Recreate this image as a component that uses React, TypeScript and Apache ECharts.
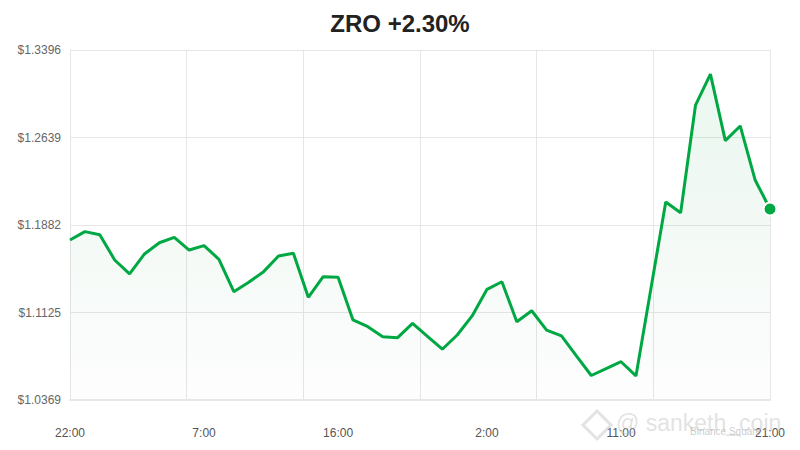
import React, { useEffect, useRef } from "react";
import * as echarts from "echarts";

// hourly closes, starting 22:00
const prices = [
  1.1753, 1.1825, 1.1799, 1.158, 1.1459, 1.1632, 1.1729, 1.1776, 1.1666, 1.1704,
  1.1586, 1.1306, 1.1387, 1.1479, 1.1614, 1.1638, 1.1257, 1.1435, 1.143, 1.1061,
  1.1003, 1.0917, 1.0908, 1.1032, 1.092, 1.0808, 1.0931, 1.1096, 1.1326, 1.1392,
  1.1046, 1.1141, 1.0974, 1.0923, 1.0751, 1.0581, 1.0641, 1.07, 1.0577, 1.1329,
  1.2081, 1.1989, 1.292, 1.3188, 1.2612, 1.2739, 1.2272, 1.2021,
];
const startHour = 22;
const xLabelHours = [0, 9, 18, 28, 37, 47];
const yTickLabels = ["$1.0369", "$1.1125", "$1.1882", "$1.2639", "$1.3396"];
const yMin = 1.0369;
const yMax = 1.3396;

const green = "#00a843";
const font = "Liberation Sans, Arial, sans-serif";

const App: React.FC = () => {
  const chartRef = useRef<HTMLDivElement | null>(null);

  useEffect(() => {
    document.body.style.margin = "0";
    if (!chartRef.current) return;
    const chart = echarts.init(chartRef.current, undefined, { renderer: "svg" });

    // y axis runs in steps of one tick so min stays on the tick grid
    const yStep = (yMax - yMin) / (yTickLabels.length - 1);
    const points = prices.map((p, i) => [i, (p - yMin) / yStep]);
    const last = points[points.length - 1];
    const maxX = prices.length - 1;

    const option = {
      animation: false,
      textStyle: { fontFamily: font },
      title: {
        text: "ZRO +2.30%",
        left: "center",
        top: 6,
        textStyle: { fontSize: 24, fontWeight: "bold", color: "#222", fontFamily: font },
      },
      grid: { left: 70, right: 30, top: 50, bottom: 50 },
      xAxis: [
        {
          type: "value",
          min: 0,
          max: maxX,
          interval: maxX / 6,
          axisLine: { show: true, lineStyle: { color: "#e8e8e8", width: 2 } },
          axisTick: { show: false },
          axisLabel: { show: false },
          splitLine: { show: true, lineStyle: { color: "#e6e6e6", width: 1 } },
        },
        {
          type: "value",
          position: "bottom",
          min: 0,
          max: maxX,
          interval: 1,
          axisLine: { show: false },
          axisTick: { show: false },
          splitLine: { show: false },
          axisLabel: {
            show: true,
            margin: 27,
            color: "#555",
            fontSize: 12,
            fontFamily: font,
            formatter: (v: number) =>
              xLabelHours.includes(Math.round(v))
                ? `${(startHour + Math.round(v)) % 24}:00`
                : "",
          },
        },
      ],
      yAxis: {
        type: "value",
        min: 0,
        max: yTickLabels.length - 1,
        interval: 1,
        axisLine: { show: true, lineStyle: { color: "#e6e6e6" } },
        axisTick: { show: false },
        axisLabel: {
          margin: 9,
          color: "#666",
          fontSize: 12,
          fontFamily: font,
          formatter: (v: number) => yTickLabels[Math.round(v)] ?? "",
        },
        splitLine: { show: true, lineStyle: { color: "#e6e6e6" } },
      },
      series: [
        {
          type: "line",
          data: points,
          showSymbol: false,
          symbol: "none",
          lineStyle: { color: green, width: 3 },
          areaStyle: {
            color: new echarts.graphic.LinearGradient(0, 0, 0, 1, [
              { offset: 0, color: "rgba(0,168,67,0.12)" },
              { offset: 1, color: "rgba(0,100,40,0.01)" },
            ]),
          },
          z: 2,
        },
        {
          type: "scatter",
          data: [last],
          symbol: "circle",
          symbolSize: 13,
          itemStyle: { color: green, opacity: 1, borderColor: "#fff", borderWidth: 2 },
          z: 3,
        },
      ],
      graphic: [
        {
          type: "polygon",
          silent: true,
          shape: { points: [[597, 411], [611, 425], [597, 439], [583, 425]] },
          style: { fill: "none", stroke: "rgba(200,200,200,0.5)", lineWidth: 3 },
          z: 10,
        },
        {
          type: "text",
          left: 616,
          top: 411,
          silent: true,
          style: {
            text: "@ sanketh_coin",
            fontSize: 23,
            fontFamily: font,
            fill: "rgba(190,190,190,0.45)",
          },
          z: 10,
        },
        {
          type: "text",
          left: 690,
          top: 426,
          silent: true,
          style: {
            text: "Binance Square",
            fontSize: 10,
            fontFamily: font,
            fill: "rgba(170,170,170,0.6)",
          },
          z: 10,
        },
      ],
    };

    chart.setOption(option);
    return () => {
      chart.dispose();
    };
  }, []);

  return <div ref={chartRef} style={{ width: "800px", height: "450px" }} />;
};

export default App;
